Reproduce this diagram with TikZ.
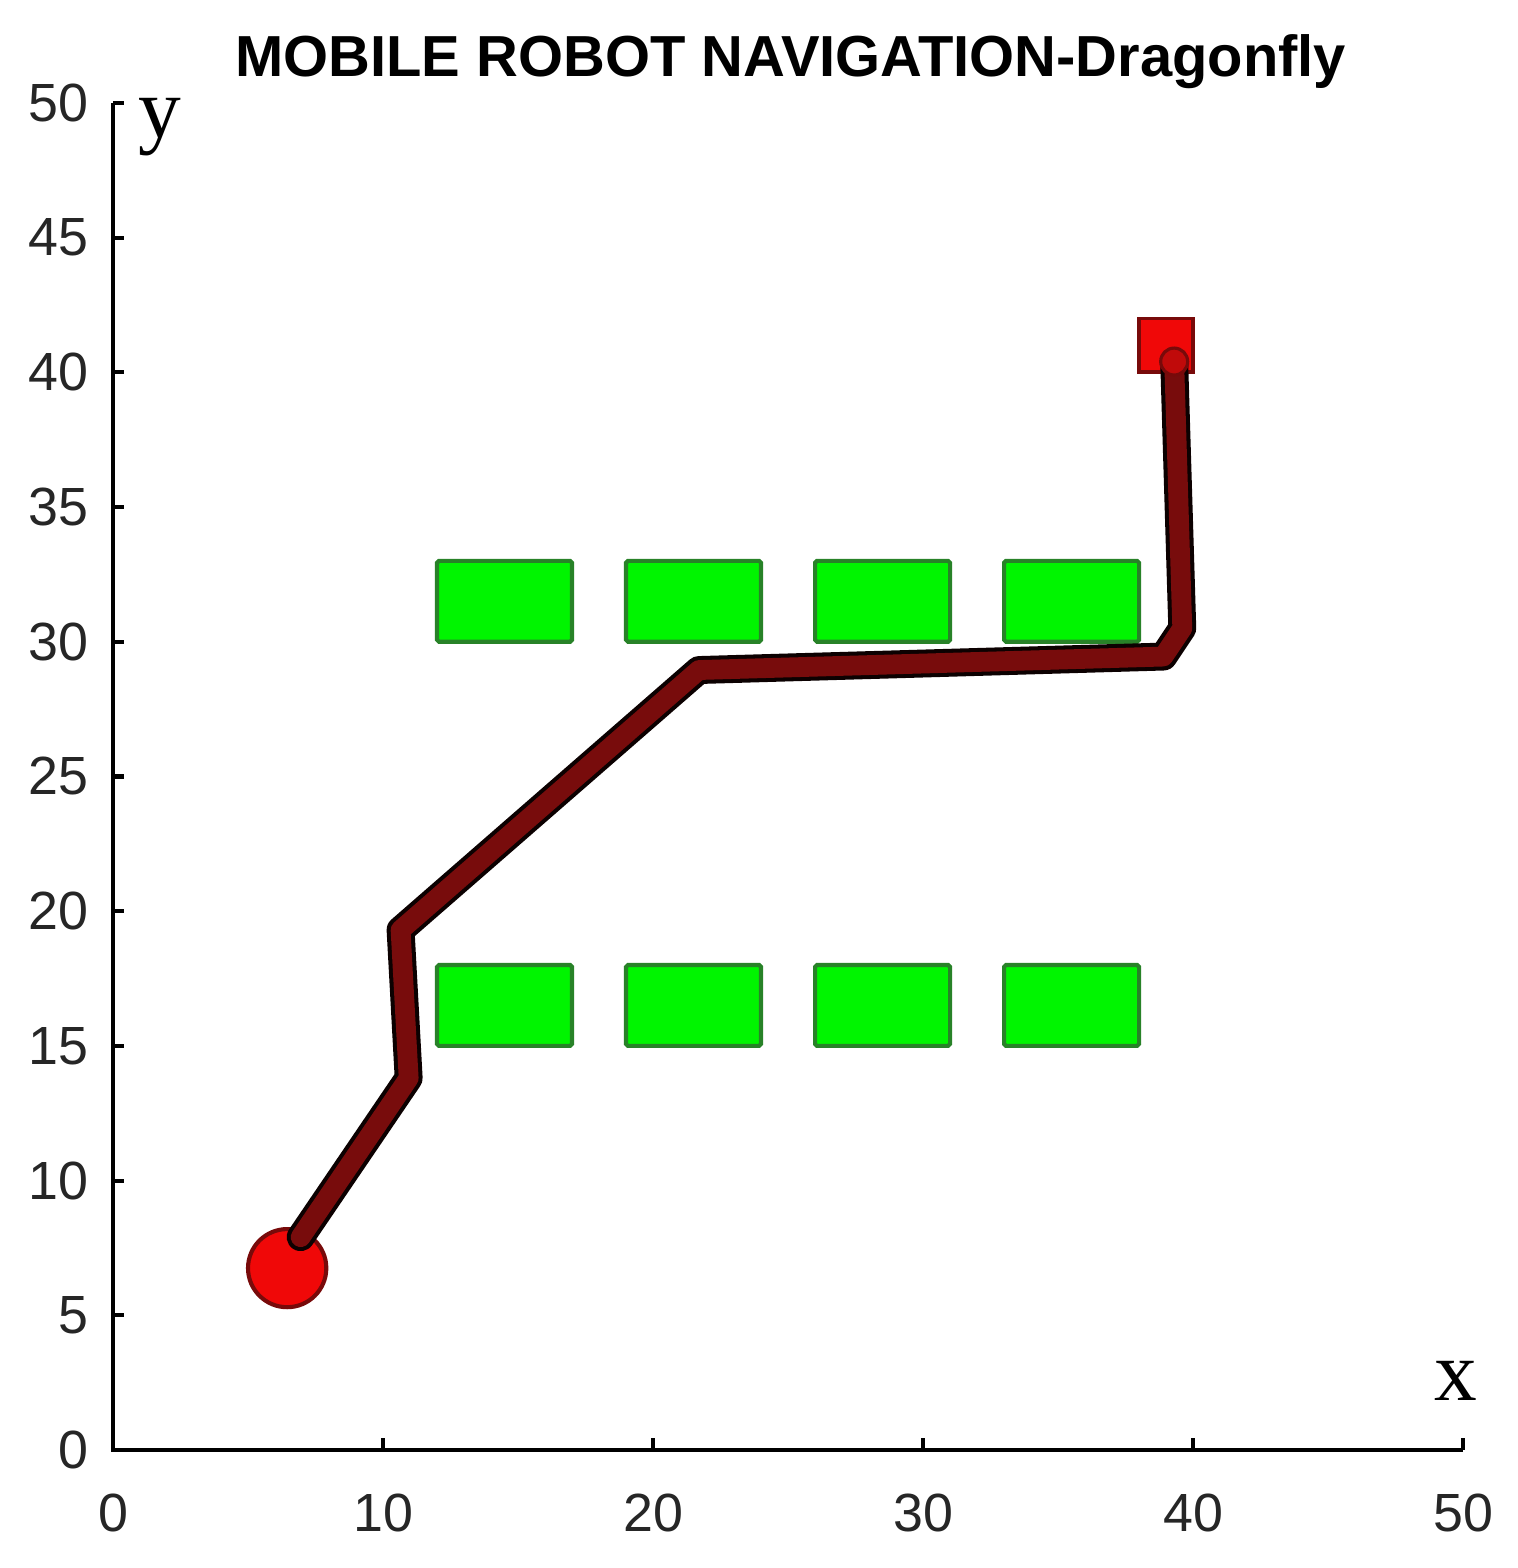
\documentclass[tikz,border=0pt]{standalone}
\usepackage{fontspec}
\setmainfont{Liberation Sans}
\newfontfamily\serifx{Liberation Serif}
\definecolor{obsgreen}{RGB}{0,245,0}
\definecolor{obsedge}{RGB}{40,130,40}
\definecolor{pathred}{RGB}{120,12,12}
\definecolor{goalred}{RGB}{240,8,8}
\definecolor{goaledge}{RGB}{120,10,10}
\tikzset{
  obstacle/.style={fill=obsgreen,draw=obsedge,line width=1.3pt,rounded corners=0.6pt},
  axisline/.style={line width=1.3pt,black},
  ticklab/.style={font=\fontsize{17}{17}\selectfont,text=black!85},
  axlab/.style={font=\serifx\fontsize{27}{27}\selectfont},
}
\begin{document}
\begin{tikzpicture}[x=0.3cm,y=0.29933cm]
\useasboundingbox (-4.185,-4.38) rectangle (52.0,53.82);
% title
\node[font=\bfseries\fontsize{18.3}{20}\selectfont,anchor=base] (title) at (25.1,50.97) {MOBILE ROBOT NAVIGATION-Dragonfly};
% obstacles
\foreach \a/\b in {12/17,19/24,26/31,33/38}{
  \draw[obstacle] (\a,30) rectangle (\b,33);
  \draw[obstacle] (\a,15) rectangle (\b,18);
}
% start
\draw[fill=goalred,draw=goaledge,line width=1.3pt] (6.45,6.75) circle[radius=1.45];
% goal
\draw[fill=goalred,draw=goaledge,line width=1.2pt] (38,40) rectangle (40,42);
% path
\coordinate (p0) at (6.95,7.9);
\coordinate (p1) at (10.95,13.8);
\coordinate (p2) at (10.65,19.3);
\coordinate (p3) at (21.7,28.95);
\coordinate (p4) at (38.9,29.45);
\coordinate (p5) at (39.6,30.5);
\coordinate (p6) at (39.3,40.4);
\draw[line width=0.31cm,black!90!pathred,line join=round,line cap=round] (p0)--(p1)--(p2)--(p3)--(p4)--(p5)--(p6);
\draw[line width=0.22cm,pathred,line join=round,line cap=round] (p0)--(p1)--(p2)--(p3)--(p4)--(p5)--(p6);
\draw[fill=goalred!60!pathred,draw=goaledge,line width=1pt] (p6) circle[radius=0.5];
% axes
\draw[axisline] (0,50)--(0,0)--(50,0);
\foreach \v in {5,10,...,50}{
  \draw[axisline] (0,\v)--(0.4,\v);
}
\foreach \v in {10,20,...,50}{
  \draw[axisline] (\v,0)--(\v,0.45);
}
\foreach \v in {0,5,...,50}{
  \node[ticklab,anchor=east] (yl\v) at (-0.5,\v) {\v};
}
\foreach \v in {0,10,...,50}{
  \node[ticklab,anchor=north] (xl\v) at (\v,-1.2) {\v};
}
\node[axlab] (ylab) at (1.74,49.1) {y};
\node[axlab] (xlab) at (49.74,2.56) {x};
\end{tikzpicture}
\end{document}
